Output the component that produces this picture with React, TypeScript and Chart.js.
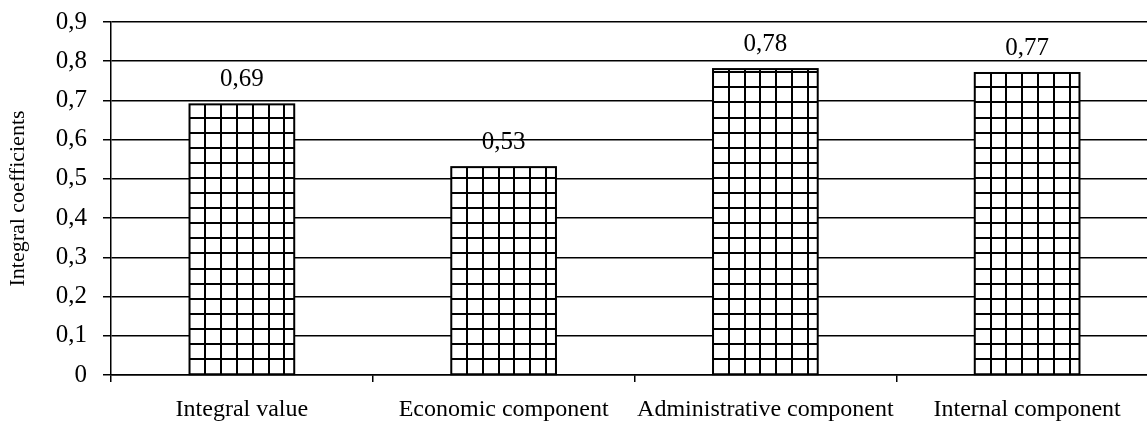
import React, { useEffect, useRef } from "react";
import { Chart, registerables } from "chart.js";

Chart.register(...registerables);

const categories = [
  "Integral value",
  "Economic component",
  "Administrative component",
  "Internal component",
];
const values = [0.69, 0.53, 0.78, 0.77];
const valueLabels = ["0,69", "0,53", "0,78", "0,77"];
const yAxisTitle = "Integral coefficients";
const yMin = 0;
const yMax = 0.9;
const yStep = 0.1;

const FONT = "'Liberation Serif', 'Times New Roman', serif";

const gridPatternPlugin = {
  id: "gridPattern",
  afterDatasetsDraw(chart: any) {
    const ctx = chart.ctx;
    const meta = chart.getDatasetMeta(0);
    const cellW = 15.8;
    const cellH = 15.1;
    meta.data.forEach((bar: any) => {
      const p = bar.getProps(["x", "y", "base", "width"], true);
      const left = p.x - p.width / 2;
      const right = p.x + p.width / 2;
      const top = p.y;
      const bottom = p.base;
      ctx.save();
      ctx.beginPath();
      ctx.rect(left, top, right - left, bottom - top);
      ctx.clip();
      ctx.strokeStyle = "#000";
      ctx.lineWidth = 2;
      ctx.beginPath();
      for (let x = left + cellW; x < right - 2; x += cellW) {
        ctx.moveTo(Math.round(x), top);
        ctx.lineTo(Math.round(x), bottom);
      }
      for (let y = bottom - cellH; y > top; y -= cellH) {
        ctx.moveTo(left, Math.round(y));
        ctx.lineTo(right, Math.round(y));
      }
      ctx.stroke();
      ctx.restore();
      ctx.save();
      ctx.strokeStyle = "#000";
      ctx.lineWidth = 2;
      ctx.strokeRect(left, top, right - left, bottom - top);
      ctx.restore();
    });
    ctx.save();
    ctx.fillStyle = "#000";
    ctx.font = `25px ${FONT}`;
    ctx.textAlign = "center";
    ctx.textBaseline = "alphabetic";
    meta.data.forEach((bar: any, i: number) => {
      const p = bar.getProps(["x", "y"], true);
      ctx.fillText(valueLabels[i], p.x, p.y - 18);
    });
    ctx.restore();
  },
};

export default function App() {
  const ref = useRef<HTMLCanvasElement | null>(null);
  useEffect(() => {
    if (!ref.current) return;
    const chart = new Chart(ref.current, {
      type: "bar",
      data: {
        labels: categories,
        datasets: [
          {
            data: values,
            backgroundColor: "#fff",
            borderWidth: 0,
            barPercentage: 0.4,
            categoryPercentage: 1,
          },
        ],
      },
      options: {
        animation: false,
        responsive: false,
        devicePixelRatio: 1,
        layout: { padding: { top: 22, left: 0, right: 2, bottom: 0 } },
        plugins: {
          legend: { display: false },
          tooltip: { enabled: false },
        },
        scales: {
          x: {
            offset: true,
            grid: {
              offset: true,
              drawOnChartArea: false,
              drawTicks: true,
              tickLength: 7,
              color: "#000",
              lineWidth: 1.5,
            },
            border: { color: "#000", width: 1.5 },
            ticks: {
              color: "#000",
              font: { family: FONT, size: 24 },
              padding: 13,
              maxRotation: 0,
              autoSkip: false,
            },
            afterFit: (scale: any) => {
              scale.height = 48;
              scale.paddingLeft = 0;
              scale.paddingRight = 0;
            },
          },
          y: {
            min: yMin,
            max: yMax,
            ticks: {
              stepSize: yStep,
              color: "#000",
              font: { family: FONT, size: 25 },
              padding: 16,
              callback: (v: any) =>
                Number(v) === 0 ? "0" : Number(v).toFixed(1).replace(".", ","),
            },
            grid: {
              color: "#000",
              lineWidth: 1.5,
              tickLength: 8,
            },
            border: { color: "#000", width: 1.5 },
            title: {
              display: true,
              text: yAxisTitle,
              color: "#000",
              font: { family: FONT, size: 22 },
              padding: { top: 5, bottom: 0 },
            },
            afterFit: (scale: any) => {
              scale.width = 111;
              scale.paddingTop = 0;
              scale.paddingBottom = 0;
            },
          },
        },
      },
      plugins: [gridPatternPlugin],
    });
    return () => chart.destroy();
  }, []);
  return (
    <div
      style={{
        position: "absolute",
        left: 0,
        top: 0,
        width: 1147,
        height: 423,
        overflow: "hidden",
        background: "#fff",
      }}
    >
      <canvas ref={ref} width={1160} height={423} style={{ width: 1160, height: 423 }} />
    </div>
  );
}
